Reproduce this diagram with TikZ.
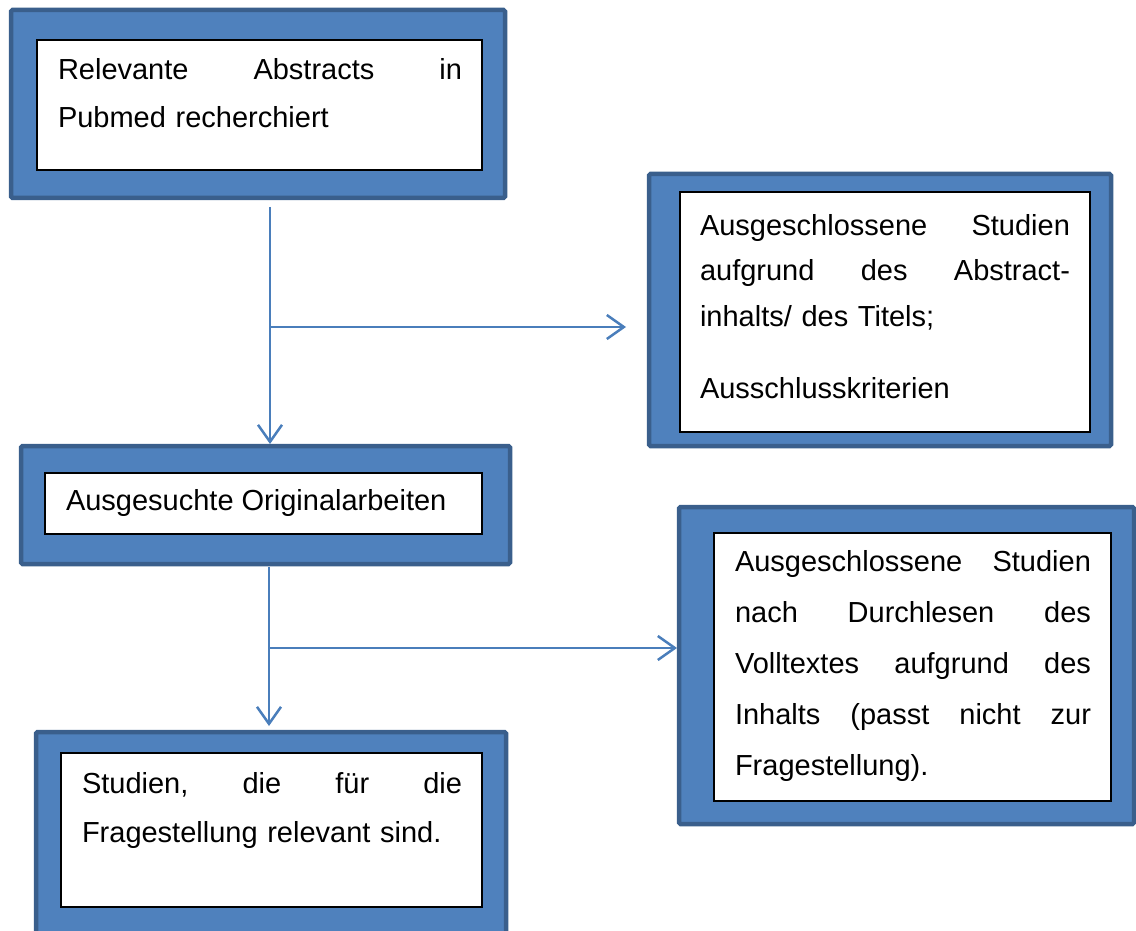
\documentclass[tikz,border=0pt]{standalone}
\usepackage{fontspec}
\setmainfont{Liberation Sans}
\usetikzlibrary{arrows.meta}
\definecolor{boxfill}{HTML}{4F81BD}
\definecolor{boxedge}{HTML}{3A5F8C}
\definecolor{arrowcol}{HTML}{4A7EBB}
\begin{document}
\begin{tikzpicture}[x=1pt,y=-1pt,
  outerbox/.style={fill=boxfill,draw=boxedge,line width=4.5pt,rounded corners=1.5pt,outer sep=0pt,inner sep=0pt},
  innerbox/.style={fill=white,draw=black,line width=1.2pt,outer sep=0pt,inner sep=0pt},
  txt/.style={anchor=base west,inner sep=0pt,outer sep=0pt,align=left},
  conn/.style={draw=arrowcol,line width=2.5pt},
  arr/.style={conn,-{Straight Barb[length=17pt,width=24pt]}}
]
\useasboundingbox (0,0) rectangle (1136,931);

% boxes
\node[outerbox,minimum width=494pt,minimum height=188pt] (o1) at (258,104) {};
\node[innerbox,minimum width=445pt,minimum height=130pt] (i1) at (259.5,105) {};
\node[outerbox,minimum width=462pt,minimum height=272pt] (o2) at (880,310) {};
\node[innerbox,minimum width=410pt,minimum height=240pt] (i2) at (885,312) {};
\node[outerbox,minimum width=489pt,minimum height=118pt] (o3) at (265.5,505) {};
\node[innerbox,minimum width=437pt,minimum height=61pt] (i3) at (263.5,503.5) {};
\node[outerbox,minimum width=455pt,minimum height=317pt] (o4) at (906.5,665.5) {};
\node[innerbox,minimum width=397pt,minimum height=268pt] (i4) at (912.5,667) {};
\node[outerbox,minimum width=470pt,minimum height=228pt] (o5) at (271,846) {};
\node[innerbox,minimum width=421pt,minimum height=154pt] (i5) at (271.5,830) {};

% texts
\node[txt,text width=404pt,font=\fontsize{29}{48}\selectfont] (t1) at (58,80)
  {Relevante\hfill Abstracts\hfill in\\Pubmed recherchiert};
\node[txt,text width=370pt,font=\fontsize{29}{46}\selectfont] (t2) at (700,235)
  {Ausgeschlossene\hfill Studien\\aufgrund\hfill des\hfill Abstract-\\inhalts/ des Titels;\\[26pt]Ausschlusskriterien};
\node[txt,font=\fontsize{29}{46}\selectfont] (t3) at (66,510)
  {Ausgesuchte Originalarbeiten};
\node[txt,text width=356pt,font=\fontsize{29}{51}\selectfont] (t4) at (735,571)
  {Ausgeschlossene\hfill Studien\\nach\hfill Durchlesen\hfill des\\Volltextes\hfill aufgrund\hfill des\\Inhalts\hfill (passt\hfill nicht\hfill zur\\Fragestellung).};
\node[txt,text width=380pt,font=\fontsize{29}{49}\selectfont] (t5) at (82,793)
  {Studien,\hfill die\hfill für\hfill die\\Fragestellung relevant sind.};

% connectors
\coordinate (a1) at (270,207);
\coordinate (j1) at (270,327);
\coordinate (a2) at (270,444);
\coordinate (e1) at (626,327);
\draw[arr] (a1) -- (a2);
\draw[arr] (j1) -- (e1);

\coordinate (b1) at (269,567);
\coordinate (j2) at (269,648);
\coordinate (b2) at (269,726);
\coordinate (e2) at (677,648);
\draw[arr] (b1) -- (b2);
\draw[arr] (j2) -- (e2);
\end{tikzpicture}
\end{document}
